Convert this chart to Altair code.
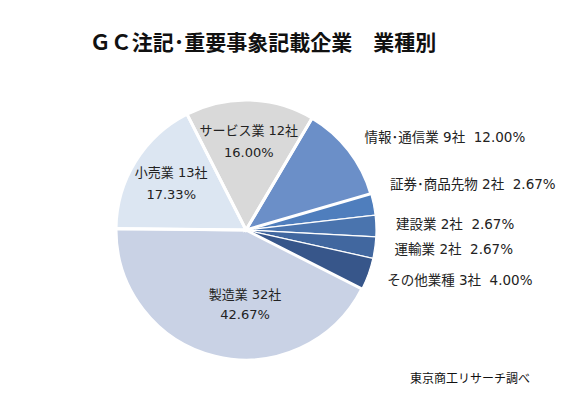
import altair as alt
import pandas as pd
import math

categories = ["サービス業", "情報･通信業", "証券･商品先物", "建設業", "運輸業", "その他業種", "製造業", "小売業"]
counts = [12, 9, 2, 2, 2, 3, 32, 13]
percents = ["16.00%", "12.00%", "2.67%", "2.67%", "2.67%", "4.00%", "42.67%", "17.33%"]
colors = ["#D9D9D9", "#6B8FC8", "#4F7EBD", "#4A74AE", "#41679F", "#37568A", "#C9D2E5", "#DCE6F2"]

title_text = "ＧＣ注記･重要事象記載企業　業種別"
source_text = "東京商工リサーチ調べ"

NB = "\u00a0"
df = pd.DataFrame({
    "cat": categories,
    "count": counts,
    "pct": percents,
    "order": list(range(len(categories))),
})
df["line1"] = [f"{c}{NB}{n}社" for c, n in zip(categories, counts)]
df["full"] = [f"{c}{NB}{n}社{NB}{NB}{p}" for c, n, p in zip(categories, counts, percents)]

FONT = "DejaVu Sans, Noto Sans CJK JP"
CJK = "Noto Sans CJK JP"
start = math.radians(-27.0)
theta_scale = alt.Scale(domain=[0, 1], range=[start, start + 2 * math.pi])

cx, cy = 238, 222

base = alt.Chart(df).transform_joinaggregate(
    total="sum(count)"
).transform_window(
    cum="sum(count)", sort=[alt.SortField("order")], frame=[None, 0]
).transform_calculate(
    f0="(datum.cum - datum.count) / datum.total",
    f1="datum.cum / datum.total",
    fm="(datum.cum - datum.count / 2) / datum.total",
).encode(x=alt.value(cx), y=alt.value(cy))

arcs = base.mark_arc(outerRadius=130, stroke="white", strokeWidth=1.2).encode(
    theta=alt.Theta("f0:Q", scale=theta_scale),
    theta2="f1:Q",
    color=alt.Color("cat:N", scale=alt.Scale(domain=categories, range=colors), legend=None),
)

big = ["サービス業", "情報･通信業", "製造業", "小売業"]
arcs_big = base.mark_arc(outerRadius=130, stroke="white", strokeWidth=3, fillOpacity=0).encode(
    theta=alt.Theta("f0:Q", scale=theta_scale),
    theta2="f1:Q",
).transform_filter(alt.FieldOneOfPredicate(field="cat", oneOf=big))

tb = base.encode(theta=alt.Theta("fm:Q", scale=theta_scale))

def txt(size=13, **kw):
    return tb.mark_text(font=FONT, fontSize=size, color="#222222", **kw)

inner_cats = ["サービス業", "小売業"]
inner1 = txt(radius=88, dy=-11).encode(text="line1:N").transform_filter(
    alt.FieldOneOfPredicate(field="cat", oneOf=inner_cats))
inner2 = txt(radius=88, dy=11).encode(text="pct:N").transform_filter(
    alt.FieldOneOfPredicate(field="cat", oneOf=inner_cats))

mfg1 = txt(radius=88, dx=20, dy=-20).encode(text="line1:N").transform_filter(alt.datum.cat == "製造業")
mfg2 = txt(radius=88, dx=20, dy=0).encode(text="pct:N").transform_filter(alt.datum.cat == "製造業")

outer_cats = ["情報･通信業", "建設業", "運輸業", "その他業種"]
outer = txt(size=13.5, radius=150, align="left").encode(text="full:N").transform_filter(
    alt.FieldOneOfPredicate(field="cat", oneOf=outer_cats))
outer_sec = txt(size=13.5, radius=150, align="left", dx=-3, dy=-15).encode(text="full:N").transform_filter(
    alt.datum.cat == "証券･商品先物")

title = alt.Chart(pd.DataFrame({"t": [title_text]})).mark_text(
    font=CJK, fontSize=21, fontWeight="bold", color="#111111", align="center"
).encode(text="t:N", x=alt.value(255), y=alt.value(36))

source = alt.Chart(pd.DataFrame({"t": [source_text]})).mark_text(
    font=CJK, fontSize=12, color="#111111", align="left"
).encode(text="t:N", x=alt.value(402), y=alt.value(371))

chart = alt.layer(arcs, arcs_big, inner1, inner2, mfg1, mfg2, outer, outer_sec, title, source).properties(
    width=569, height=385, padding=0, autosize=alt.AutoSizeParams(type="none")
).configure_view(stroke=None)

chart.save("out.html", embed_options={"renderer": "svg", "actions": False})
